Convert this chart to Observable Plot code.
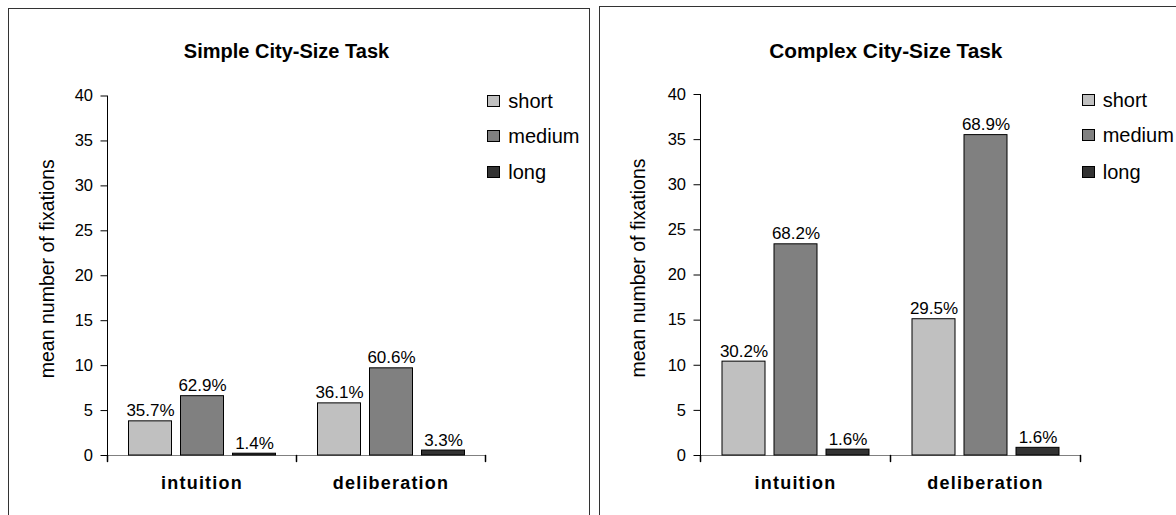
<!DOCTYPE html>
<html>
<head>
<meta charset="utf-8">
<script src="https://cdn.jsdelivr.net/npm/d3@7"></script>
<script src="https://cdn.jsdelivr.net/npm/@observablehq/plot@0.6"></script>
<style>
  html, body { margin: 0; padding: 0; background: #fff; overflow: hidden; }
  body { width: 1176px; height: 515px; position: relative; font-family: "Liberation Sans", Arial, sans-serif; }
  .panel { position: absolute; border: 1px solid #333; box-sizing: border-box; }
  .title { position: absolute; font-weight: bold; line-height: 20px; white-space: nowrap; transform: translateX(-50%); }
  .legend-item { position: absolute; font-size: 20px; line-height: 20px; white-space: nowrap; }
  .legend-item .sw { position: absolute; width: 13px; height: 12px; border: 1px solid #000; box-sizing: border-box; top: 4px; }
  .chart { position: absolute; top: 0; }
  .chart g[aria-label="fx-axis tick label"] { font-weight: bold; letter-spacing: 1.2px; font-size: 18px; }
  .chart g[aria-label="y-axis tick label"] { font-size: 16.5px; }
</style>
</head>
<body>
<div class="panel" style="left:8px; top:8px; width:582px; height:530px;"></div>
<div class="panel" style="left:599px; top:6px; width:600px; height:530px;"></div>
<script>
// ---- data ----
const groups = ["intuition", "deliberation"];
const durations = ["short", "medium", "long"];
const colors = ["#c0c0c0", "#808080", "#333333"];
const yTicks = [0, 5, 10, 15, 20, 25, 30, 35, 40];
const yTitle = "mean number of fixations";

const simpleTitle = "Simple City-Size Task";
const simpleIntuition = [3.8, 6.6, 0.2];
const simpleDeliberation = [5.8, 9.7, 0.55];
const simpleIntuitionPct = ["35.7%", "62.9%", "1.4%"];
const simpleDeliberationPct = ["36.1%", "60.6%", "3.3%"];

const complexTitle = "Complex City-Size Task";
const complexIntuition = [10.4, 23.4, 0.65];
const complexDeliberation = [15.1, 35.5, 0.85];
const complexIntuitionPct = ["30.2%", "68.2%", "1.6%"];
const complexDeliberationPct = ["29.5%", "68.9%", "1.6%"];

function rowsFor(values, pcts) {
  const rows = [];
  values.forEach((vals, gi) => {
    vals.forEach((v, di) => rows.push({group: groups[gi], duration: durations[di], value: v, pct: pcts[gi][di]}));
  });
  return rows;
}

const tickShape = {
  draw(context, l) { context.moveTo(0, 0); context.lineTo(0, -l); }
};

function makeChart(rows, cfg) {
  return Plot.plot({
    width: cfg.width,
    height: 515,
    marginLeft: cfg.marginLeft,
    marginRight: cfg.marginRight,
    marginTop: cfg.marginTop,
    marginBottom: 60,
    style: {fontFamily: '"Liberation Sans", Arial, sans-serif', fontSize: "17px", color: "#000", background: "transparent", overflow: "visible"},
    fx: {domain: groups, padding: 0, label: null, tickSize: 0, tickPadding: 21},
    x: {domain: durations, paddingInner: 0.18, paddingOuter: 0.4, axis: null},
    y: {domain: [0, 40], ticks: yTicks, tickSize: 6.5, tickPadding: 8, line: true, label: null},
    color: {domain: durations, range: colors},
    marks: [
      Plot.ruleY([0], {stroke: "#808080"}),
      Plot.barY(rows, {fx: "group", x: "duration", y: "value", fill: "duration", stroke: "#000", strokeWidth: 1}),
      Plot.text(rows, {fx: "group", x: "duration", y: "value", text: "pct", lineAnchor: "bottom", dy: -5, fontSize: 17}),
      Plot.vector(groups.map(g => ({group: g})), {fx: "group", frameAnchor: "bottom-left", length: 6, rotate: 180, anchor: "start", shape: tickShape, stroke: "#000"}),
      Plot.vector([{group: groups[groups.length - 1]}], {fx: "group", frameAnchor: "bottom-right", length: 6, rotate: 180, anchor: "start", shape: tickShape, stroke: "#000"}),
      Plot.text([{group: groups[0], t: yTitle}], {fx: "group", frameAnchor: "left", textAnchor: "middle", text: "t", rotate: -90, dx: cfg.titleDx, dy: -7, fontSize: 19.5})
    ]
  });
}

function addPanel(left, rows, cfg, title, titleSize, titleX, titleTop, legendX, textX, legendYs) {
  const chart = makeChart(rows, cfg);
  chart.classList.add("chart");
  chart.style.left = left + "px";
  document.body.appendChild(chart);
  const t = document.createElement("div");
  t.className = "title";
  t.textContent = title;
  t.style.fontSize = titleSize + "px";
  t.style.left = titleX + "px";
  t.style.top = titleTop + "px";
  document.body.appendChild(t);
  durations.forEach((d, i) => {
    const item = document.createElement("div");
    item.className = "legend-item";
    item.style.left = legendX + "px";
    item.style.top = (legendYs[i] - 10) + "px";
    const sw = document.createElement("div");
    sw.className = "sw";
    sw.style.left = "0px";
    sw.style.background = colors[i];
    item.appendChild(sw);
    const label = document.createElement("span");
    label.textContent = d;
    label.style.marginLeft = (textX - legendX) + "px";
    item.appendChild(label);
    document.body.appendChild(item);
  });
}

addPanel(0,
  rowsFor([simpleIntuition, simpleDeliberation], [simpleIntuitionPct, simpleDeliberationPct]),
  {width: 590, marginLeft: 106.5, marginRight: 104.5, marginTop: 95.5, titleDx: -60},
  simpleTitle, 20, 286.5, 41, 487.3, 508.3, [100.5, 136, 172]);

addPanel(590,
  rowsFor([complexIntuition, complexDeliberation], [complexIntuitionPct, complexDeliberationPct]),
  {width: 586, marginLeft: 110, marginRight: 96, marginTop: 94, titleDx: -62},
  complexTitle, 20.8, 885.8, 41, 1082, 1102.7, [99.5, 135, 172]);
</script>
</body>
</html>
